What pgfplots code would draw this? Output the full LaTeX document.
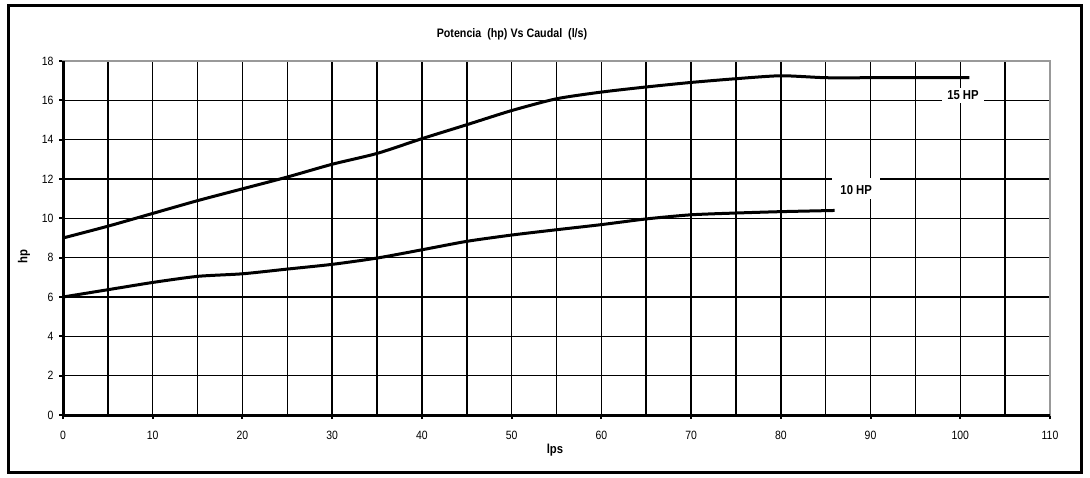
\documentclass[border=0pt]{standalone}
\usepackage{pgfplots}
\pgfplotsset{compat=1.18}
\usepackage{fontspec}
\setmainfont[FakeStretch=0.87]{Liberation Sans}

\begin{document}
\begin{tikzpicture}
\path[use as bounding box] (0pt,0pt) rectangle (1090pt,477pt);
% outer frame of the chart
\draw[line width=3pt] (8.5pt,4.5pt) rectangle (1081.5pt,471.5pt);
\begin{axis}[
    at={(63pt,62pt)}, anchor=south west,
    scale only axis, width=987pt, height=354pt,
    xmin=0, xmax=110, ymin=0, ymax=18,
    xtick={0,10,...,110}, minor xtick={5,15,...,105},
    ytick={0,2,...,18},
    grid=both,
    major grid style={black, line width=1.5pt},
    minor grid style={black, line width=1.5pt},
    axis line style={gray!80, line width=1.5pt},
    tick align=outside, xtick pos=bottom, ytick pos=left,
    major tick length=4pt, minor tick length=0pt,
    tick style={black, line width=2pt},
    tick label style={font=\fontsize{12}{14}\selectfont},
    xticklabel style={yshift=-9pt},
    yticklabel style={xshift=-2pt},
    /pgf/number format/assume math mode=true,
    after end axis/.code={
        \draw[black, line width=3pt] (rel axis cs:0,1) -- (rel axis cs:0,0) -- (rel axis cs:1,0);
    },
]
% 15 HP
\addplot[black, line width=3pt, smooth, tension=0.4] coordinates {
    (0,9.0) (5,9.6) (10,10.25) (15,10.9) (20,11.5) (25,12.1) (30,12.75)
    (35,13.3) (40,14.05) (45,14.76) (50,15.48) (55,16.08) (60,16.42)
    (65,16.68) (70,16.91) (75,17.1) (80,17.25) (85,17.15) (90,17.15)
    (95,17.15) (101,17.15)
};
% 10 HP
\addplot[black, line width=3pt, smooth, tension=0.4] coordinates {
    (0,6.0) (5,6.37) (10,6.74) (15,7.05) (20,7.18) (25,7.42) (30,7.66)
    (35,7.98) (40,8.4) (45,8.83) (50,9.15) (55,9.42) (60,9.68) (65,9.97)
    (70,10.18) (75,10.27) (80,10.34) (86,10.4)
};
\node[fill=white, inner xsep=5pt, inner ysep=2.5pt, text height=9pt, text depth=1pt,
    font=\bfseries\fontsize{13}{14}\selectfont]
    at (axis cs:100.3,16.25) {15 HP};
\node[fill=white, inner xsep=8pt, inner ysep=3pt, text height=14pt, text depth=1pt,
    font=\bfseries\fontsize{13}{14}\selectfont]
    at (axis cs:88.4,11.54) {10 HP};
\end{axis}
\node[font=\bfseries\fontsize{12.3}{14}\selectfont] at (512pt,443pt) {Potencia\ \ (hp) Vs Caudal\ \ (l/s)};
\node[font=\bfseries\fontsize{13}{14}\selectfont] at (555pt,27pt) {lps};
\node[font=\bfseries\fontsize{13}{14}\selectfont, rotate=90] at (24pt,220pt) {hp};
\end{tikzpicture}
\end{document}
